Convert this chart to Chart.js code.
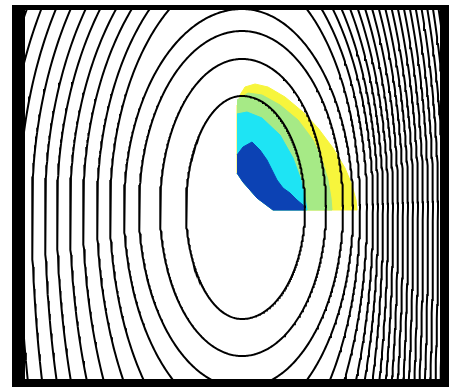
<!DOCTYPE html>
<html>
<head>
<meta charset="utf-8">
<script src="https://cdn.jsdelivr.net/npm/chart.js@4/dist/chart.umd.min.js"></script>
<style>
  html, body { margin: 0; padding: 0; background: #ffffff; }
  canvas { display: block; }
</style>
</head>
<body>
<canvas id="chart" width="453" height="387"></canvas>
<script>
// Field domain (grid units)
const xRange = [0, 415];
const yRange = [0, 369];

// Centre of the level-set family
const centreX = 217;
const centreY = 171;

// Each contour: distance from the centre to its left / right crossing on the
// centre row, and its reach above and below the centre.
const contourLeft   = [56, 82, 103, 118, 132, 145, 159, 172, 185, 197, 210, 223, 236, 249, 262, 275, 288, 301, 314, 327, 340, 353, 366, 379];
const contourRight  = [63, 84, 101, 111, 118, 125, 131, 136, 141, 146, 151, 156, 161, 166, 171, 176, 181, 186, 191, 196, 201, 206, 211, 216];
const contourTop    = [112, 149, 177, 199, 238, 258, 276, 292, 310, 327, 344, 361, 378, 395, 412, 429, 446, 463, 480, 497, 514, 531, 548, 565];
const contourBottom = [111, 148, 180, 212, 258, 300, 350, 400, 455, 510, 565, 620, 675, 730, 785, 840, 895, 950, 1005, 1060, 1115, 1170, 1225, 1280];

// Shaded region in the upper-right quadrant, one outline per colour band
const bandYellow = [[215,284],[220,292],[230,295],[243,292],[260,282],[278,267],[293,251],[308,231],[320,211],[327,194],[331,179],[332,169],[248,169],[232,181],[218,197],[212,206],[212,274]];
const bandGreen  = [[212,279],[223,286],[237,284],[255,274],[273,259],[288,239],[297,219],[303,199],[306,181],[307,169],[248,169],[232,181],[218,197],[212,206]];
const bandCyan   = [[212,265],[222,267],[237,261],[255,244],[268,221],[276,199],[280,181],[282,169],[248,169],[232,181],[218,197],[212,206]];
const bandBlue   = [[212,224],[218,232],[227,237],[235,229],[242,219],[247,209],[252,199],[258,191],[265,186],[272,179],[278,174],[279,169],[248,169],[232,181],[218,197],[212,206]];

const bandColours = { yellow: '#f7f53c', green: '#a6ea86', cyan: '#1ee4f4', blue: '#0c42b4' };

// Trace one contour as a closed loop through its four half-axes
function contourPoints(i) {
  const pts = [];
  const steps = 480;
  for (let s = 0; s <= steps; s++) {
    const t = (s / steps) * Math.PI * 2;
    const c = Math.cos(t), sn = Math.sin(t);
    const rx = c >= 0 ? contourRight[i] : contourLeft[i];
    const ry = sn >= 0 ? contourTop[i] : contourBottom[i];
    pts.push({ x: centreX + rx * c, y: centreY + ry * sn });
  }
  return pts;
}

function toPoints(poly) {
  return poly.map(p => ({ x: p[0], y: p[1] }));
}

const datasets = [];
for (let i = 0; i < contourLeft.length; i++) {
  datasets.push({
    label: 'level ' + (i + 1),
    data: contourPoints(i),
    showLine: true,
    borderColor: '#000000',
    borderWidth: 2,
    pointRadius: 0,
    tension: 0,
    fill: false,
    order: 0
  });
}
[['blue', bandBlue, 1], ['cyan', bandCyan, 2], ['green', bandGreen, 3], ['yellow', bandYellow, 4]].forEach(([name, poly, ord]) => {
  datasets.push({
    label: name,
    data: toPoints(poly),
    showLine: true,
    borderColor: bandColours[name],
    borderWidth: 1,
    backgroundColor: bandColours[name],
    pointRadius: 0,
    tension: 0,
    fill: 'shape',
    order: ord
  });
});

// Heavy black frame around the plotting area
const framePlugin = {
  id: 'frame',
  afterDraw(chart) {
    const { ctx, chartArea: a } = chart;
    ctx.save();
    ctx.fillStyle = '#000000';
    ctx.fillRect(a.left - 13, a.top - 5, 13, chart.height - (a.top - 5));
    ctx.fillRect(a.left - 13, a.top - 5, a.right - a.left + 22, 5);
    ctx.fillRect(a.right, a.top - 5, 9, chart.height - (a.top - 5));
    ctx.fillRect(a.left - 13, a.bottom, a.right - a.left + 22, chart.height - a.bottom);
    ctx.restore();
  }
};

new Chart(document.getElementById('chart'), {
  type: 'scatter',
  data: { datasets },
  options: {
    responsive: false,
    animation: false,
    events: [],
    layout: { padding: { left: 25, top: 10, right: 13, bottom: 8 } },
    scales: {
      x: { type: 'linear', min: xRange[0], max: xRange[1], display: false },
      y: { type: 'linear', min: yRange[0], max: yRange[1], display: false }
    },
    plugins: {
      legend: { display: false },
      tooltip: { enabled: false },
      title: { display: false }
    }
  },
  plugins: [framePlugin]
});
</script>
</body>
</html>
